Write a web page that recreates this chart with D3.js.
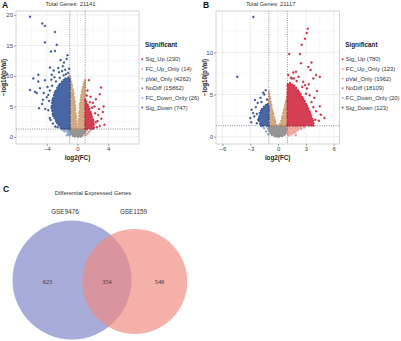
<!DOCTYPE html>
<html>
<head>
<meta charset="utf-8">
<script src="https://cdn.jsdelivr.net/npm/d3@7"></script>
<style>
  body { margin: 0; background: #fff; }
  svg { display: block; font-family: "Liberation Sans", Arial, sans-serif; }
</style>
</head>
<body>
<svg id="fig" width="401" height="341"></svg>
<script>
// category order for the legend
const categories = ["Sig_Up", "FC_Up_Only", "pVal_Only", "NoDiff", "FC_Down_Only", "Sig_Down"];
const catColors = ["#d32f44", "#f2a09a", "#cda37a", "#8c8c8c", "#8fb0dc", "#3a5a9c"];

// panel A
const countsA = [230, 14, 4262, 15862, 26, 747];
const totalA = 21141;
const xTicksA = [-4, 0, 4];
const yTicksA = [0, 5, 10, 15, 20];
// dense clouds, outlined by hand (x = log2FC, y = -log10 p)
const greyAreaA = [[-1,1.3],[-0.95,0.7],[-0.75,0.3],[-0.45,0.05],[0,0],[0.45,0.05],[0.75,0.3],[0.95,0.7],[1,1.3]];
const tanAreasA = [
  [[-1,1.3],[-1,10.2],[-0.8,9.0],[-0.55,7.6],[-0.32,5.5],[-0.16,3.0],[-0.06,1.3]],
  [[0.06,1.3],[0.16,3.0],[0.32,5.5],[0.55,7.4],[0.8,8.8],[1,9.4],[1,1.3]]
];
const sigDownAreaA = [[-1,1.3],[-2.1,1.3],[-2.7,2.3],[-3.2,3.5],[-3.4,4.8],[-3.3,6.0],[-3.0,7.2],[-2.6,8.2],[-2.1,9.0],[-1.6,9.6],[-1.2,9.8],[-1,9.5]];
const sigUpAreaA = [[1,1.3],[2.1,1.3],[2.2,2.0],[2.0,3.0],[1.7,4.2],[1.35,5.3],[1.1,6.0],[1,6.2]];
// scattered points
const sigDownPtsA = [[-6.18,19.7],[-4.58,18.6],[-4.23,18.2],[-2.93,17.2],[-4.23,15.5],[-2.7,15.1],[-3.45,14.0],[-2.93,14.1],
  [-1.76,12.2],[-3.58,11.4],[-5.1,10.2],[-3.36,10.2],[-5.75,9.6],[-5.1,9.1],[-6.18,7.7],[-5.53,7.4],[-5.3,7.2],[-4.88,8.0],
  [-4.23,9.3],[-3.8,6.9],[-4.5,6.1],[-4.2,4.6],[-4.6,5.4],[-3.0,9.8],[-2.5,11.3],[-2.2,12.6],[-1.4,12.8],[-1.9,11.6],
  [-3.9,8.2],[-4.4,7.2],[-3.2,2.2],[-2.6,1.6],[-3.6,3.1],[-5.0,4.7],[-2.4,10.6],[-1.3,13.4],
  [-1.2,10.5],[-1.5,10.3],[-1.1,11.2],[-1.8,10.1],[-2.8,9.1],[-3.3,8.4],[-3.6,7.6],[-3.7,5.9],[-3.8,4.4],[-3.5,2.8],
  [-2.9,1.7],[-2.3,9.7],[-1.6,11.0],[-3.1,10.9],[-2.0,10.8],[-4.0,6.5],[-3.4,9.4]];
const sigUpPtsA = [[1.5,9.3],[3.06,8.1],[2.9,7.0],[2.4,6.2],[2.0,5.6],[3.4,5.0],[2.8,4.6],[2.7,3.6],[3.1,3.0],[2.6,2.6],
  [3.5,2.0],[2.9,1.8],[1.3,7.6],[1.7,6.6],[2.2,5.0],[3.3,4.1],[1.2,6.8],[1.9,4.8],[2.3,3.9],[2.5,1.6],[2.4,2.4],[1.6,5.7]];
const fcDownPtsA = [[-1.1,1.0],[-1.3,0.8],[-1.2,0.45],[-1.5,1.1],[-1.05,0.25],[-1.7,0.9],[-1.4,0.3],[-1.15,0.7],[-1.9,1.2],[-1.25,1.2]];
const fcUpPtsA = [[1.1,0.9],[1.3,0.5],[1.2,1.1],[1.5,0.8],[1.05,0.3],[1.7,1.15]];

// panel B
const countsB = [780, 123, 1962, 18109, 20, 123];
const totalB = 21117;
const xTicksB = [-6, -3, 0, 3, 6];
const yTicksB = [0, 5, 10];
const greyAreaB = [[-1,1.3],[-0.95,0.6],[-0.7,0.2],[-0.35,0],[0.35,0],[0.7,0.2],[0.95,0.6],[1,1.3]];
const tanAreasB = [
  [[-1,1.3],[-1,5.4],[-0.8,4.2],[-0.55,2.9],[-0.3,1.8],[-0.1,1.3]],
  [[0.1,1.3],[0.3,1.8],[0.55,2.9],[0.8,4.0],[1,4.9],[1,1.3]]
];
const sigDownAreaB = [[-1,1.3],[-1.9,1.3],[-2.1,2.0],[-2.0,2.8],[-1.7,3.4],[-1.3,3.8],[-1.05,3.9],[-1,3.7]];
const sigUpAreaB = [[1,1.3],[3.9,1.3],[3.7,2.2],[3.3,3.3],[2.8,4.4],[2.3,5.3],[1.8,6.0],[1.3,6.4],[1,6.2]];
const fcUpAreaB = [[1,1.3],[2.6,1.3],[2.2,0.8],[1.6,0.35],[1.15,0.1],[1,0.4]];
const sigDownPtsB = [[-2.67,14.2],[-4.4,7.1],[-1.34,5.5],[-1.49,5.0],[-2.5,4.35],[-2.2,4.0],[-2.86,3.2],[-2.57,2.4],[-2.14,2.0],
  [-2.7,2.8],[-3.0,2.2],[-2.4,3.5],[-1.9,4.6],[-1.6,5.2],[-2.9,1.7],[-2.3,1.6],[-1.2,4.4],[-1.8,4.1],[-2.3,2.7]];
const sigUpPtsB = [[3.2,12.8],[3.08,12.3],[2.55,10.9],[2.9,11.6],[1.2,9.8],[2.36,9.8],[2.47,8.7],[3.6,8.8],[3.25,8.25],[3.5,7.9],
  [4.5,7.1],[3.8,6.9],[1.93,7.7],[1.64,7.6],[1.47,6.9],[2.7,6.5],[4.1,7.3],[3.3,6.2],[4.2,5.4],[3.9,4.6],[4.5,3.6],[4.6,2.6],
  [4.4,1.9],[2.2,7.1],[3.1,5.7],[1.1,7.3],[5.0,2.2],[3.0,5.1],[3.6,4.1],[4.1,3.0],[2.6,5.9],[2.0,6.6],[1.4,7.0],[3.4,4.9],
  [4.0,2.0],[3.8,3.5],[2.9,6.1],[1.7,6.9]];
const fcDownPtsB = [[-1.1,0.9],[-1.3,0.6],[-1.2,1.2],[-1.5,1.0],[-1.05,0.3],[-1.7,1.2]];
const fcUpPtsB = [[2.8,1.1],[2.5,0.9],[1.9,0.2]];

// panel C
const vennSets = ["GSE9476", "GSE1159"];
const vennCounts = [623, 354, 549]; // only 9476, both, only 1159

const svg = d3.select("#fig");
const defs = svg.append("defs");

function drawVolcano(cfg) {
  const g = svg.append("g");
  defs.append("clipPath").attr("id", cfg.id + "-clip")
    .append("rect").attr("x", cfg.x0).attr("y", 0).attr("width", 200).attr("height", 170);
  g.attr("clip-path", `url(#${cfg.id}-clip)`);

  const x = d3.scaleLinear().domain(cfg.xDomain).range([cfg.left, cfg.right]);
  const y = d3.scaleLinear().domain(cfg.yDomain).range([cfg.bottom, cfg.top]);

  // grid (minor then major)
  const grid = g.append("g");
  const xMinor = d3.pairs(cfg.xTicks).map(p => (p[0] + p[1]) / 2);
  const step = cfg.xTicks[1] - cfg.xTicks[0];
  xMinor.unshift(cfg.xTicks[0] - step / 2);
  xMinor.push(cfg.xTicks[cfg.xTicks.length - 1] + step / 2);
  const yMinor = d3.pairs(cfg.yTicks).map(p => (p[0] + p[1]) / 2);
  yMinor.push(cfg.yTicks[cfg.yTicks.length - 1] + (cfg.yTicks[1] - cfg.yTicks[0]) / 2);
  grid.selectAll(".vx").data(xMinor.filter(v => v > cfg.xDomain[0] && v < cfg.xDomain[1])).join("line")
    .attr("x1", d => x(d)).attr("x2", d => x(d)).attr("y1", cfg.top).attr("y2", cfg.bottom)
    .attr("stroke", "#f0f0f0").attr("stroke-width", 0.5);
  grid.selectAll(".hy").data(yMinor.filter(v => v < cfg.yDomain[1])).join("line")
    .attr("y1", d => y(d)).attr("y2", d => y(d)).attr("x1", cfg.left).attr("x2", cfg.right)
    .attr("stroke", "#f0f0f0").attr("stroke-width", 0.5);
  grid.selectAll(".mx").data(cfg.xTicks).join("line")
    .attr("x1", d => x(d)).attr("x2", d => x(d)).attr("y1", cfg.top).attr("y2", cfg.bottom)
    .attr("stroke", "#e4e4e4").attr("stroke-width", 0.6);
  grid.selectAll(".my").data(cfg.yTicks).join("line")
    .attr("y1", d => y(d)).attr("y2", d => y(d)).attr("x1", cfg.left).attr("x2", cfg.right)
    .attr("stroke", "#e4e4e4").attr("stroke-width", 0.6);

  const plot = g.append("g");
  const line = d3.line().x(d => x(d[0])).y(d => y(d[1])).curve(d3.curveLinearClosed);

  // a cloud = filled core plus a beaded rim so the edge reads as single points
  function cloud(poly, color) {
    plot.append("path").attr("d", line(poly))
      .attr("fill", color).attr("fill-opacity", 0.92).attr("stroke", color)
      .attr("stroke-width", 2.1).attr("stroke-linecap", "round").attr("stroke-linejoin", "round")
      .attr("stroke-dasharray", "0 2.1 0 3.3 0 2.6");
  }
  function dots(pts, color) {
    plot.append("g").selectAll("circle").data(pts).join("circle")
      .attr("cx", d => x(d[0])).attr("cy", d => y(d[1])).attr("r", 1.0)
      .attr("fill", color).attr("stroke", d3.color(color).darker(0.7)).attr("stroke-width", 0.35);
  }

  cloud(cfg.greyArea, catColors[3]);
  cfg.tanAreas.forEach(a => cloud(a, catColors[2]));
  if (cfg.fcUpArea) cloud(cfg.fcUpArea, catColors[1]);
  dots(cfg.fcUpPts, catColors[1]);
  dots(cfg.fcDownPts, catColors[4]);
  cloud(cfg.sigUpArea, catColors[0]);
  dots(cfg.sigUpPts, catColors[0]);
  cloud(cfg.sigDownArea, catColors[5]);
  dots(cfg.sigDownPts, catColors[5]);

  // cut the clouds at the panel border
  defs.append("clipPath").attr("id", cfg.id + "-panel")
    .append("rect").attr("x", cfg.left).attr("y", cfg.top)
    .attr("width", cfg.right - cfg.left).attr("height", cfg.bottom - cfg.top);
  plot.attr("clip-path", `url(#${cfg.id}-panel)`);

  // threshold lines
  const dash = g.append("g").attr("stroke", "#444").attr("stroke-width", 0.6).attr("stroke-dasharray", "1 1.3");
  [-1, 1].forEach(v => dash.append("line").attr("x1", x(v)).attr("x2", x(v)).attr("y1", cfg.top).attr("y2", cfg.bottom));
  dash.append("line").attr("x1", cfg.left).attr("x2", cfg.right).attr("y1", y(1.3)).attr("y2", y(1.3));

  g.append("rect").attr("x", cfg.left).attr("y", cfg.top)
    .attr("width", cfg.right - cfg.left).attr("height", cfg.bottom - cfg.top)
    .attr("fill", "none").attr("stroke", "#b5b5b5").attr("stroke-width", 0.6);

  // axes
  const xAxis = g.append("g").attr("transform", `translate(0,${cfg.bottom})`)
    .call(d3.axisBottom(x).tickValues(cfg.xTicks).tickSize(2).tickPadding(1).tickFormat(d => d < 0 ? "\u2212" + (-d) : d));
  const yAxis = g.append("g").attr("transform", `translate(${cfg.left},0)`)
    .call(d3.axisLeft(y).tickValues(cfg.yTicks).tickSize(2).tickPadding(1));
  [xAxis, yAxis].forEach(a => {
    a.select(".domain").remove();
    a.selectAll(".tick line").attr("stroke", "#555").attr("stroke-width", 0.5);
    a.selectAll(".tick text").attr("fill", "#444").attr("font-size", 6)
      .attr("font-family", "Liberation Sans, Arial, sans-serif");
  });

  const cx = (cfg.left + cfg.right) / 2;
  g.append("text").attr("x", cx).attr("y", cfg.bottom + 15.5).attr("text-anchor", "middle")
    .attr("font-size", 6.3).attr("font-weight", "bold").attr("fill", "#222").text("log2(FC)");
  g.append("text").attr("transform", `translate(${cfg.x0 + 6},${(cfg.top + cfg.bottom) / 2}) rotate(-90)`)
    .attr("text-anchor", "middle").attr("font-size", 6.3).attr("font-weight", "bold").attr("fill", "#222")
    .text("\u2212log10(pVal)");
  g.append("text").attr("x", cx - 7).attr("y", 6).attr("text-anchor", "middle")
    .attr("font-size", 5.8).attr("fill", "#333").text("Total Genes: " + cfg.total);
  g.append("text").attr("x", cfg.x0 + 2).attr("y", 8).attr("font-size", 8.5).attr("font-weight", "bold")
    .attr("fill", "#111").text(cfg.id);

  // legend
  const lg = g.append("g").attr("transform", `translate(${cfg.right + 3},0)`);
  lg.append("text").attr("x", 3).attr("y", 46.5).attr("font-size", 6.3).attr("font-weight", "bold")
    .attr("fill", "#222").text("Significant");
  const items = lg.selectAll(".item").data(categories).join("g")
    .attr("transform", (d, i) => `translate(0,${59.3 + i * 9.65})`);
  items.append("circle").attr("cx", 0.3).attr("cy", 0).attr("r", 0.95)
    .attr("fill", (d, i) => catColors[i]);
  items.append("text").attr("x", 3.5).attr("y", 2.1).attr("font-size", 5.9).attr("fill", "#333")
    .text((d, i) => `${d} (${cfg.counts[i]})`);
}

drawVolcano({
  id: "A", x0: 0, left: 16, right: 139, top: 11, bottom: 144,
  xDomain: [-8, 8], yDomain: [-1.15, 20.65], xTicks: xTicksA, yTicks: yTicksA,
  greyArea: greyAreaA, tanAreas: tanAreasA, sigDownArea: sigDownAreaA, sigUpArea: sigUpAreaA,
  sigDownPts: sigDownPtsA, sigUpPts: sigUpPtsA, fcDownPts: fcDownPtsA, fcUpPts: fcUpPtsA,
  counts: countsA, total: totalA
});
drawVolcano({
  id: "B", x0: 201, left: 216, right: 339.3, top: 11, bottom: 144,
  xDomain: [-6.7, 6.6], yDomain: [-0.87, 14.9], xTicks: xTicksB, yTicks: yTicksB,
  greyArea: greyAreaB, tanAreas: tanAreasB, sigDownArea: sigDownAreaB, sigUpArea: sigUpAreaB, fcUpArea: fcUpAreaB,
  sigDownPts: sigDownPtsB, sigUpPts: sigUpPtsB, fcDownPts: fcDownPtsB, fcUpPts: fcUpPtsB,
  counts: countsB, total: totalB
});

// Venn diagram
const venn = svg.append("g");
venn.append("text").attr("x", 3).attr("y", 192).attr("font-size", 8.5).attr("font-weight", "bold")
  .attr("fill", "#111").text("C");
venn.append("text").attr("x", 93).attr("y", 195).attr("text-anchor", "middle")
  .attr("font-size", 5.9).attr("fill", "#333").text("Differential Expressed Genes");

const vx = d3.scaleLinear().domain([0, 1]).range([72, 134.8]);
const circles = [
  { cx: 0, cy: 280, r: 59.5, fill: "#a8acd9", op: 1 },
  { cx: 1, cy: 281.5, r: 52.5, fill: "#ef8a80", op: 0.68 }
];
venn.selectAll("circle").data(circles).join("circle")
  .attr("cx", d => vx(d.cx)).attr("cy", d => d.cy).attr("r", d => d.r)
  .attr("fill", d => d.fill).attr("fill-opacity", d => d.op);
venn.selectAll(".setlab").data(vennSets).join("text")
  .attr("x", (d, i) => [65, 133.5][i]).attr("y", 213.5).attr("text-anchor", "middle")
  .attr("font-size", 6.4).attr("fill", "#333").text(d => d);
venn.selectAll(".num").data(vennCounts).join("text")
  .attr("x", (d, i) => [47.5, 107, 159.5][i]).attr("y", 284).attr("text-anchor", "middle")
  .attr("font-family", "Liberation Serif, Times New Roman, serif")
  .attr("font-size", 6.3).attr("fill", "#4a2f2f").text(d => d);
</script>
</body>
</html>
